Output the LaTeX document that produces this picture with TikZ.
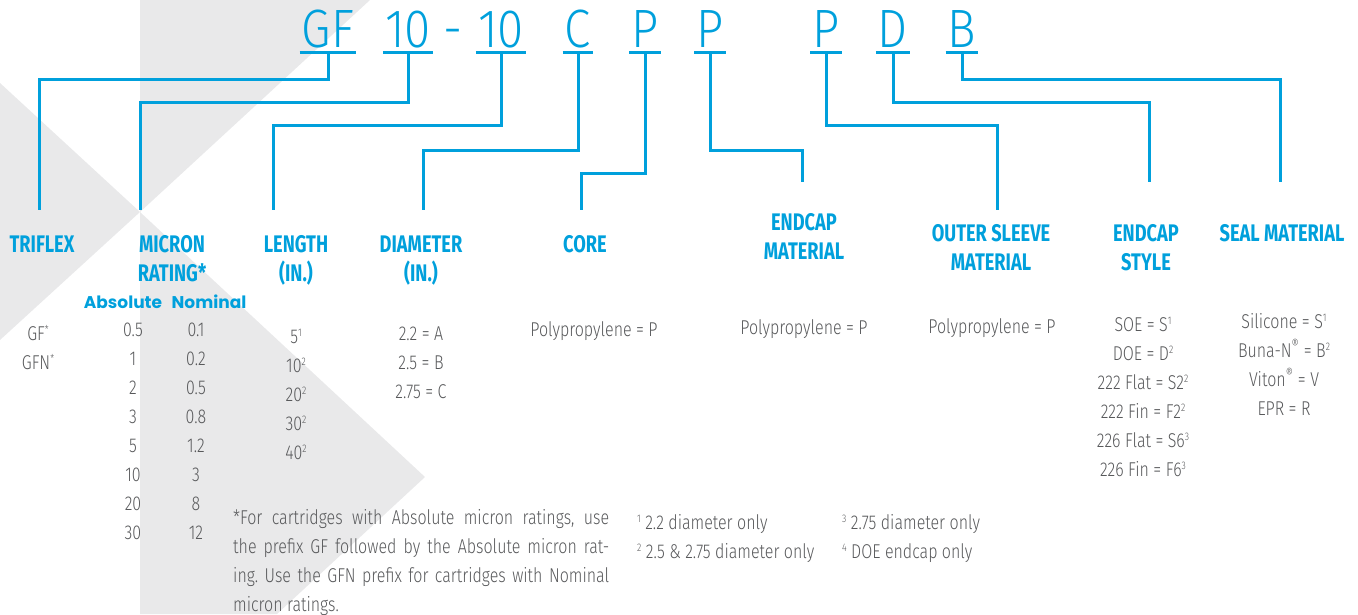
\documentclass[tikz,border=0pt]{standalone}
\usepackage{fontspec}
\usetikzlibrary{positioning}
\newfontfamily\lightfont{Fira Sans Light}[FakeStretch=0.8]
\newfontfamily\codefont{Fira Sans Light}[FakeStretch=0.88]
\newfontfamily\headfont{Fira Sans}[FakeStretch=0.76]
\newfontfamily\colfont{Poppins}
\definecolor{triblue}{RGB}{0,160,220}
\definecolor{trigray}{RGB}{88,89,91}
\definecolor{bggray}{RGB}{233,233,234}
\newcommand{\sups}[1]{\raisebox{6.2pt}{\fontsize{11}{11}\selectfont #1}}
\frenchspacing

\begin{document}
\begin{tikzpicture}[x=1pt, y=-1pt,
    link/.style={draw=triblue, line width=3pt},
    code/.style={font=\codefont\fontsize{54}{54}\selectfont, text=triblue, anchor=base, inner xsep=2pt, inner ysep=5pt, text depth=0pt},
    head/.style={font=\headfont\bfseries\fontsize{24}{29}\selectfont, text=triblue, align=center, anchor=base, inner sep=0pt},
    sub/.style={font=\colfont\bfseries\fontsize{17}{20}\selectfont, text=triblue, anchor=base, inner sep=0pt},
    body/.style={font=\lightfont\fontsize{20}{29}\selectfont, text=trigray, align=center, anchor=base, inner sep=0pt}]
    \useasboundingbox (0,0) rectangle (1358,614);
    % background X
    \fill[bggray] (140,0) -- (370,0) -- (140,212) -- cycle;
    \fill[bggray] (0,83) -- (140,212) -- (0,340) -- cycle;
    \fill[bggray] (140,212) -- (425,477) -- (277,614) -- (140,614) -- cycle;

    % part number
    \node[code] (gf) at (328,47) {GF};
    \node[code] (mic) at (408,47) {10};
    \node[code, inner ysep=0pt] (dash) at (453,47) {-};
    \node[code] (len) at (501,47) {10};
    \node[code] (dia) at (578,47) {C};
    \node[code] (cor) at (645,47) {P};
    \node[code] (ecm) at (710,47) {P};
    \node[code] (osm) at (826,47) {P};
    \node[code] (ecs) at (893,47) {D};
    \node[code] (sea) at (962,47) {B};
    \foreach \n in {gf,mic,len,dia,cor,ecm,osm,ecs,sea}
        \draw[link] (\n.south west) -- (\n.south east);

    % headings (base = last line)
    \node[head] (triflex) at (42,252) {TRIFLEX};
    \node[head] (micron) at (172,281) {MICRON\\RATING*};
    \node[head] (length) at (296,281) {LENGTH\\(IN.)};
    \node[head] (diameter) at (421,281) {DIAMETER\\(IN.)};
    \node[head] (core) at (585,252) {CORE};
    \node[head] (endcapmat) at (804,259) {ENDCAP\\MATERIAL};
    \node[head] (sleeve) at (991,270) {OUTER SLEEVE\\MATERIAL};
    \node[head] (endcapstyle) at (1146,270) {ENDCAP\\STYLE};
    \node[head] (seal) at (1282,241) {SEAL MATERIAL};
    \node[sub] (absolute) at (123,308) {Absolute};
    \node[sub] (nominal) at (209,308) {Nominal};

    % connector ends
    \coordinate (tri-in) at (39,210);
    \coordinate (mic-in) at (140,210);
    \coordinate (len-in) at (273,210);
    \coordinate (dia-in) at (423,210);
    \coordinate (cor-in) at (581,210);
    \coordinate (ecm-in) at (802,182);
    \coordinate (osm-in) at (997,210);
    \coordinate (ecs-in) at (1149,182);
    \coordinate (sea-in) at (1280,182);
    \foreach \n/\d/\e in {gf/27/tri-in, mic/50/mic-in, len/73/len-in, dia/98/dia-in, cor/121/cor-in,
                          ecm/98/ecm-in, osm/73/osm-in, ecs/50/ecs-in, sea/27/sea-in}
        \draw[link] (\n.south) -- ++(0,\d) -| (\e);

    % values
    \node[body] (prefix) at (38,369) {GF\sups{*}\\GFN\sups{*}};
    \node[body] (abs) at (133,539) {0.5\\1\\2\\3\\5\\10\\20\\30};
    \node[body] (nom) at (196,539) {0.1\\0.2\\0.5\\0.8\\1.2\\3\\8\\12};
    \node[body] (lengths) at (296,459) {5\sups{1}\\10\sups{2}\\20\sups{2}\\30\sups{2}\\40\sups{2}};
    \node[body] (diams) at (421,398) {2.2 = A\\2.5 = B\\2.75 = C};
    \node[body] (cores) at (594,336) {Polypropylene = P};
    \node[body] (caps) at (804,334) {Polypropylene = P};
    \node[body] (sleeves) at (992,333) {Polypropylene = P};
    \node[body] (styles) at (1143,476) {SOE = S\sups{1}\\DOE = D\sups{2}\\222 Flat = S2\sups{2}\\222 Fin = F2\sups{2}\\226 Flat = S6\sups{3}\\226 Fin = F6\sups{3}};
    \node[body] (seals) at (1284,415) {Silicone = S\sups{1}\\Buna-N\textsuperscript{®} = B\sups{2}\\Viton\textsuperscript{®} = V\\EPR = R};

    % notes
    \node[body, align=justify, text width=376pt, anchor=base west] (note) at (233,524)
        {*For cartridges with Absolute micron ratings, use\linebreak the prefix GF followed by the Absolute micron rat-\linebreak ing. Use the GFN prefix for cartridges with Nominal\linebreak micron ratings.};
    \node[body, anchor=base west] (fn1) at (637,529) {\sups{1} 2.2 diameter only};
    \node[body, anchor=base west] (fn2) at (637,558) {\sups{2} 2.5 \& 2.75 diameter only};
    \node[body, anchor=base west] (fn3) at (842,529) {\sups{3} 2.75 diameter only};
    \node[body, anchor=base west] (fn4) at (842,558) {\sups{4} DOE endcap only};
\end{tikzpicture}
\end{document}
